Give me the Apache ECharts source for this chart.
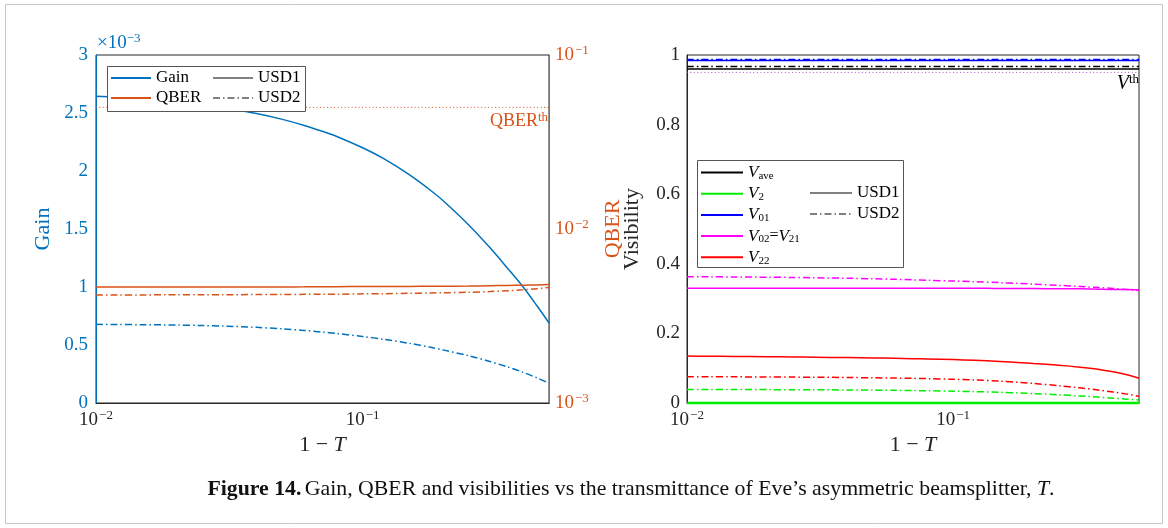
<!DOCTYPE html>
<html><head><meta charset="utf-8">
<script src="https://cdn.jsdelivr.net/npm/echarts@6/dist/echarts.min.js"></script>
<style>html,body{margin:0;padding:0;background:#fff}#c{width:1168px;height:528px}</style>
</head><body><div id="c"></div>
<script>
// ---- data ----
const xVals = [0.01, 0.012, 0.015, 0.02, 0.025, 0.03, 0.04, 0.05, 0.06, 0.07, 0.08, 0.1, 0.12, 0.15, 0.18, 0.2, 0.25, 0.3, 0.35, 0.4, 0.45, 0.5];
// Gain in units of 1e-3
const gainUSD1 = [2.645, 2.635, 2.62, 2.595, 2.57, 2.545, 2.495, 2.445, 2.395, 2.345, 2.298, 2.200, 2.106, 1.966, 1.832, 1.746, 1.535, 1.34, 1.16, 1.00, 0.84, 0.69];
const gainUSD2 = [0.678, 0.677, 0.675, 0.672, 0.668, 0.663, 0.652, 0.639, 0.626, 0.612, 0.599, 0.573, 0.549, 0.514, 0.480, 0.458, 0.407, 0.358, 0.311, 0.264, 0.217, 0.170];
const qberUSD1 = [0.00464, 0.00464, 0.00464, 0.00464, 0.00464, 0.00464, 0.00464, 0.00464, 0.00465, 0.00466, 0.00466, 0.00467, 0.00467, 0.00468, 0.00469, 0.00469, 0.0047, 0.00472, 0.00474, 0.00475, 0.00477, 0.00479];
const qberUSD2 = [0.00418, 0.00418, 0.00418, 0.00419, 0.00419, 0.00419, 0.0042, 0.0042, 0.00421, 0.00422, 0.00422, 0.00424, 0.00425, 0.00427, 0.00429, 0.0043, 0.00433, 0.00437, 0.00442, 0.00447, 0.00454, 0.00461];
const qberTh = 0.05;
const vaveUSD1 = 0.96, vaveUSD2 = 0.967, v01USD1 = 0.984, v01USD2 = 0.987, v2USD1 = 0.0;
const v2USD2 = [0.0390, 0.0389, 0.0387, 0.0385, 0.0382, 0.0380, 0.0375, 0.0370, 0.0364, 0.0358, 0.0352, 0.0340, 0.0327, 0.0307, 0.0286, 0.0271, 0.0236, 0.0202, 0.0170, 0.0138, 0.0110, 0.0085];
const v02USD1 = [0.330, 0.330, 0.330, 0.330, 0.330, 0.330, 0.330, 0.330, 0.330, 0.330, 0.330, 0.330, 0.330, 0.329, 0.329, 0.329, 0.328, 0.328, 0.327, 0.326, 0.326, 0.325];
const v02USD2 = [0.3630, 0.3627, 0.3622, 0.3615, 0.3608, 0.3600, 0.3585, 0.3570, 0.3555, 0.3540, 0.3527, 0.3505, 0.3485, 0.3458, 0.3432, 0.3416, 0.3380, 0.3350, 0.3320, 0.3290, 0.3260, 0.3230];
const v22USD1 = [0.1348, 0.1344, 0.1338, 0.1330, 0.1322, 0.1315, 0.1305, 0.1295, 0.1285, 0.1275, 0.1266, 0.1248, 0.1228, 0.1195, 0.1158, 0.1135, 0.1085, 0.1030, 0.0970, 0.0895, 0.0810, 0.0710];
const v22USD2 = [0.0757, 0.0755, 0.0752, 0.0748, 0.0744, 0.0740, 0.0733, 0.0725, 0.0717, 0.0709, 0.0700, 0.0682, 0.0662, 0.0628, 0.0590, 0.0563, 0.0496, 0.0435, 0.0375, 0.0313, 0.0255, 0.0195];
const vTh = 0.95;
const gainTicks = [0, 0.5, 1, 1.5, 2, 2.5, 3];
const visTicks = [0, 0.2, 0.4, 0.6, 0.8, 1];

// ---- styling ----
const FONT = '"Liberation Serif","DejaVu Serif",serif';
const BLUE = '#0072BD', ORANGE = '#D95319', DARK = '#262626', GRAY = '#808080';
const DASHDOT = [7, 3, 1.5, 3];
const pairs = ys => xVals.map((x, i) => [x, ys[i]]);
const flat = (v) => [[xVals[0], v], [xVals[xVals.length - 1], v]];

const powRich = (color) => ({
  b: { fontSize: 19, fontFamily: FONT, color: color, lineHeight: 22 },
  s: { fontSize: 13, fontFamily: FONT, color: color, lineHeight: 12, verticalAlign: 'top', padding: [0, 0, 0, 1] }
});
const powFmt = (v) => {
  const e = Math.log10(v);
  if (Math.abs(e - Math.round(e)) > 1e-6) return '';
  return '{b|10}{s|\u2212' + Math.abs(Math.round(e)) + '}';
};
const vRich = {
  v: { fontSize: 17, fontFamily: FONT, fontStyle: 'italic', color: '#000', lineHeight: 18 },
  n: { fontSize: 16, fontFamily: FONT, color: '#000', lineHeight: 18 },
  sub: { fontSize: 11, fontFamily: FONT, color: '#000', lineHeight: 10, verticalAlign: 'bottom' }
};
const vLabel = {
  'Vave': '{v|V}{sub|ave}', 'V2': '{v|V}{sub|2}', 'V01': '{v|V}{sub|01}',
  'V02': '{v|V}{sub|02}{n|=}{v|V}{sub|21}', 'V22': '{v|V}{sub|22}'
};

function line(name, data, color, opts) {
  return Object.assign({
    type: 'line', name: name, data: data, symbol: 'none', showSymbol: false, silent: true,
    smooth: 0.3, animation: false, z: 2,
    lineStyle: { color: color, width: 1.5, type: 'solid' }, itemStyle: { color: color }
  }, opts || {});
}
function ls(color, type, width) { return { lineStyle: { color: color, type: type, width: width || 1.5 } }; }

const chart = echarts.init(document.getElementById('c'), null, { renderer: 'canvas' });
const legendText = { fontFamily: FONT, fontSize: 17, color: '#000', lineHeight: 18 };
const legendBase = { orient: 'vertical', padding: 0, selectedMode: false, itemStyle: { opacity: 0 }, z: 20 };

chart.setOption({
  animation: false,
  backgroundColor: '#fff',
  grid: [
    { left: 96, top: 55, width: 453, height: 348, show: true, borderColor: DARK, borderWidth: 1, containLabel: false, outerBoundsMode: 'none' },
    { left: 687, top: 55, width: 452, height: 348, show: true, borderColor: DARK, borderWidth: 1, containLabel: false, outerBoundsMode: 'none' }
  ],
  xAxis: [0, 1].map(g => ({
    type: 'log', logBase: 10, gridIndex: g, min: 0.01, max: 0.5,
    axisLine: { show: true, lineStyle: { color: DARK, width: 1 } },
    axisTick: { show: false }, minorTick: { show: false }, splitLine: { show: false },
    axisLabel: { formatter: powFmt, rich: powRich(DARK), margin: 6, showMaxLabel: false },
    name: '{a|1 \u2212 }{i|T}', nameLocation: 'middle', nameGap: 30,
    nameTextStyle: { rich: { a: { fontSize: 22, fontFamily: FONT, color: DARK }, i: { fontSize: 22, fontFamily: FONT, fontStyle: 'italic', color: DARK } } }
  })),
  yAxis: [
    { type: 'value', gridIndex: 0, min: gainTicks[0], max: gainTicks[gainTicks.length - 1], interval: 0.5,
      axisLine: { show: true, lineStyle: { color: BLUE, width: 1 } }, axisTick: { show: false }, splitLine: { show: false },
      axisLabel: { color: BLUE, fontFamily: FONT, fontSize: 19, margin: 8 },
      name: 'Gain', nameLocation: 'middle', nameGap: 42, nameTextStyle: { color: BLUE, fontFamily: FONT, fontSize: 22 } },
    { type: 'log', logBase: 10, gridIndex: 0, position: 'right', min: 0.001, max: 0.1,
      axisLine: { show: true, lineStyle: { color: ORANGE, width: 1 } }, axisTick: { show: false }, minorTick: { show: false }, splitLine: { show: false },
      axisLabel: { formatter: powFmt, rich: powRich(ORANGE), margin: 6 },
      name: 'QBER', nameLocation: 'middle', nameGap: 53, nameTextStyle: { color: ORANGE, fontFamily: FONT, fontSize: 22 } },
    { type: 'value', gridIndex: 1, min: visTicks[0], max: visTicks[visTicks.length - 1], interval: 0.2,
      axisLine: { show: true, lineStyle: { color: DARK, width: 1 } }, axisTick: { show: false }, splitLine: { show: false },
      axisLabel: { color: DARK, fontFamily: FONT, fontSize: 19, margin: 7, formatter: v => (Math.round(v * 10) / 10).toString() },
      name: 'Visibility', nameLocation: 'middle', nameGap: 44, nameTextStyle: { color: DARK, fontFamily: FONT, fontSize: 22 } }
  ],
  legend: [
    Object.assign({}, legendBase, { data: ['Gain', 'QBER'], left: 110, top: 69, itemWidth: 40, itemHeight: 12, itemGap: 2, textStyle: legendText }),
    Object.assign({}, legendBase, { data: ['USD1', 'USD2'], left: 212, top: 69, itemWidth: 40, itemHeight: 12, itemGap: 2, textStyle: legendText }),
    Object.assign({}, legendBase, { data: ['Vave', 'V2', 'V01', 'V02', 'V22'], left: 700, top: 164, itemWidth: 42, itemHeight: 14, itemGap: 3.7,
      formatter: n => vLabel[n], textStyle: { fontFamily: FONT, fontSize: 16, color: '#000', rich: vRich } }),
    Object.assign({}, legendBase, { data: ['USD1 ', 'USD2 '], left: 809, top: 184, itemWidth: 42, itemHeight: 14, itemGap: 3, textStyle: legendText })
  ],
  graphic: {
    z: 10,
    elements: [
      { type: 'rect', shape: { x: 5.5, y: 4.5, width: 1157, height: 519 }, style: { fill: 'none', stroke: '#c8c8c8', lineWidth: 1 }, z: 10, silent: true },
      { type: 'rect', shape: { x: 107.5, y: 66.5, width: 198, height: 45 }, style: { fill: '#ffffff', stroke: '#555555', lineWidth: 1 }, z: 10, silent: true },
      { type: 'rect', shape: { x: 697.5, y: 160.5, width: 206, height: 107 }, style: { fill: '#ffffff', stroke: '#555555', lineWidth: 1 }, z: 10, silent: true },
      { type: 'text', x: 97, y: 32, z: 11, style: { text: '{a|\u00d710}{s|\u22123}', rich: { a: { fontSize: 19, fontFamily: FONT, fill: BLUE, lineHeight: 22 }, s: { fontSize: 13, fontFamily: FONT, fill: BLUE, lineHeight: 12, verticalAlign: 'top' } } } },
      { type: 'text', x: 548, y: 111, z: 11, style: { text: '{a|QBER}{s|th}', align: 'right', rich: { a: { fontSize: 18, fontFamily: FONT, fill: ORANGE, lineHeight: 20 }, s: { fontSize: 13, fontFamily: FONT, fill: ORANGE, lineHeight: 12, verticalAlign: 'top' } } } },
      { type: 'text', x: 1139, y: 73, z: 11, style: { text: '{a|V}{s|th}', align: 'right', rich: { a: { fontSize: 20, fontFamily: FONT, fontStyle: 'italic', fill: '#000', lineHeight: 21 }, s: { fontSize: 13, fontFamily: FONT, fill: '#000', lineHeight: 12, verticalAlign: 'top' } } } },
      { type: 'text', x: 631, y: 478, z: 11, style: { text: '{b|Figure 14.} {r|Gain, QBER and visibilities vs the transmittance of Eve\u2019s asymmetric beamsplitter, }{i|T}{r|.}', align: 'center', rich: { b: { fontSize: 21.8, fontWeight: 'bold', fontFamily: FONT, fill: '#111' }, r: { fontSize: 21.8, fontFamily: FONT, fill: '#111' }, i: { fontSize: 21.8, fontStyle: 'italic', fontFamily: FONT, fill: '#111' } } } }
    ]
  },
  series: [
    // left plot
    line('Gain', pairs(gainUSD1), BLUE, { xAxisIndex: 0, yAxisIndex: 0 }),
    line('Gain USD2', pairs(gainUSD2), BLUE, Object.assign({ xAxisIndex: 0, yAxisIndex: 0 }, ls(BLUE, DASHDOT))),
    line('QBER', pairs(qberUSD1), ORANGE, { xAxisIndex: 0, yAxisIndex: 1 }),
    line('QBER USD2', pairs(qberUSD2), ORANGE, Object.assign({ xAxisIndex: 0, yAxisIndex: 1 }, ls(ORANGE, DASHDOT))),
    line('QBER th', flat(qberTh), ORANGE, Object.assign({ xAxisIndex: 0, yAxisIndex: 1 }, ls(ORANGE, [1, 2.5], 1))),
    line('USD1', [], GRAY, { xAxisIndex: 0, yAxisIndex: 0 }),
    line('USD2', [], GRAY, Object.assign({ xAxisIndex: 0, yAxisIndex: 0 }, ls(GRAY, DASHDOT))),
    // right plot
    line('V th', flat(vTh), '#a050c8', Object.assign({ xAxisIndex: 1, yAxisIndex: 2 }, ls('#a050c8', [1, 2.5], 1))),
    line('Vave', flat(vaveUSD1), '#000', { xAxisIndex: 1, yAxisIndex: 2 }),
    line('Vave USD2', flat(vaveUSD2), '#000', Object.assign({ xAxisIndex: 1, yAxisIndex: 2 }, ls('#000', DASHDOT))),
    line('V01', flat(v01USD1), '#0000ff', { xAxisIndex: 1, yAxisIndex: 2 }),
    line('V01 USD2', flat(v01USD2), '#0000ff', Object.assign({ xAxisIndex: 1, yAxisIndex: 2 }, ls('#0000ff', DASHDOT))),
    line('V02', pairs(v02USD1), '#ff00ff', { xAxisIndex: 1, yAxisIndex: 2 }),
    line('V02 USD2', pairs(v02USD2), '#ff00ff', Object.assign({ xAxisIndex: 1, yAxisIndex: 2 }, ls('#ff00ff', DASHDOT))),
    line('V22', pairs(v22USD1), '#ff0000', { xAxisIndex: 1, yAxisIndex: 2 }),
    line('V22 USD2', pairs(v22USD2), '#ff0000', Object.assign({ xAxisIndex: 1, yAxisIndex: 2 }, ls('#ff0000', DASHDOT))),
    line('V2', flat(v2USD1), '#00ee00', Object.assign({ xAxisIndex: 1, yAxisIndex: 2, clip: false }, ls('#00ee00', 'solid', 2.5))),
    line('V2 USD2', pairs(v2USD2), '#00ee00', Object.assign({ xAxisIndex: 1, yAxisIndex: 2 }, ls('#00ee00', DASHDOT))),
    line('USD1 ', [], GRAY, { xAxisIndex: 1, yAxisIndex: 2 }),
    line('USD2 ', [], GRAY, Object.assign({ xAxisIndex: 1, yAxisIndex: 2 }, ls(GRAY, DASHDOT)))
  ]
});
</script></body></html>
